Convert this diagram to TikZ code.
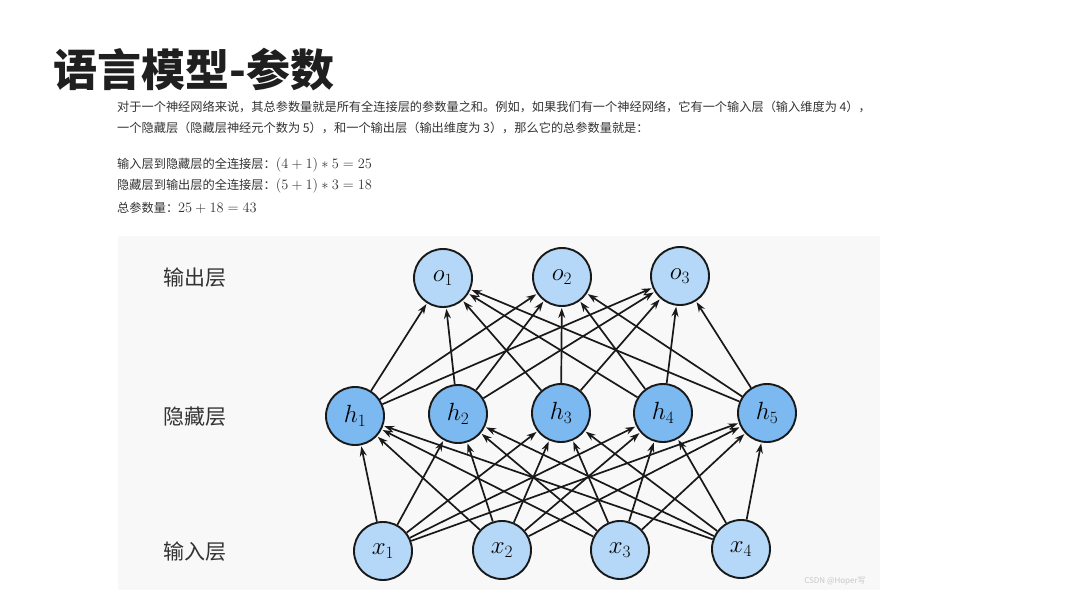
\documentclass[tikz,border=0pt]{standalone}
\usepackage{fontspec}
\setmainfont{Liberation Sans}
\newfontfamily\cjk{Noto Sans CJK SC}
\usetikzlibrary{arrows.meta}
\definecolor{lightnode}{HTML}{B5D8F8}
\definecolor{darknode}{HTML}{7CB9F1}
\definecolor{panelbg}{HTML}{F8F8F8}
\definecolor{txt}{HTML}{333333}
\definecolor{wm}{HTML}{C8C8C8}
\newcommand{\bigmath}[1]{{\fontsize{15}{16}\selectfont$#1$}}
\tikzset{
  neuronlight/.style={circle, draw=black!90, line width=1.9pt, fill=lightnode, minimum size=58pt, inner sep=0pt, font=\fontsize{23}{25}\selectfont},
  neurondark/.style={neuronlight, fill=darknode},
  edge/.style={-{Stealth[length=10pt,width=7pt]}, line width=1.7pt, black!90, shorten >=1pt},
  layerlabel/.style={anchor=west, inner sep=0pt, text=txt, font=\cjk\fontsize{21}{24}\selectfont},
  para/.style={anchor=west, inner sep=0pt, text=txt, font=\cjk\fontsize{12.2}{14}\selectfont}
}
\begin{document}
\begin{tikzpicture}[x=1pt,y=-1pt]
\useasboundingbox (0,0) rectangle (1080,608);
\fill[white] (0,0) rectangle (1080,608);
% title
\node[anchor=west, inner sep=0pt, text=black!88, font=\cjk\bfseries\fontsize{44}{48}\selectfont] (title) at (53,70) {语言模型-参数};
% paragraph
\node[para] (p1) at (117,107) {对于一个神经网络来说，其总参数量就是所有全连接层的参数量之和。例如，如果我们有一个神经网络，它有一个输入层（输入维度为 4），};
\node[para] (p2) at (117,128) {一个隐藏层（隐藏层神经元个数为 5），和一个输出层（输出维度为 3），那么它的总参数量就是：};
\node[para] (p3) at (117,165) {输入层到隐藏层的全连接层：\bigmath{(4+1)*5=25}};
\node[para] (p4) at (117,186) {隐藏层到输出层的全连接层：\bigmath{(5+1)*3=18}};
\node[para] (p5) at (117,208) {总参数量：\bigmath{25+18=43}};
% panel
\fill[panelbg] (118,236) rectangle (880,590);
% layer labels
\node[layerlabel] (lo) at (163,278) {输出层};
\node[layerlabel] (lh) at (163,417) {隐藏层};
\node[layerlabel] (li) at (163,552) {输入层};
% nodes
\node[neuronlight] (o1) at (443,278) {$o_1$};
\node[neuronlight] (o2) at (562,277) {$o_2$};
\node[neuronlight] (o3) at (680,276) {$o_3$};
\node[neurondark] (h1) at (355,416) {$h_1$};
\node[neurondark] (h2) at (458,414) {$h_2$};
\node[neurondark] (h3) at (561,413) {$h_3$};
\node[neurondark] (h4) at (663,413) {$h_4$};
\node[neurondark] (h5) at (767,413) {$h_5$};
\node[neuronlight] (x1) at (383,551) {$x_1$};
\node[neuronlight] (x2) at (502,550) {$x_2$};
\node[neuronlight] (x3) at (620,550) {$x_3$};
\node[neuronlight] (x4) at (741,549) {$x_4$};
% edges
\foreach \s in {h1,h2,h3,h4,h5}
  \foreach \t in {o1,o2,o3}
    \draw[edge] (\s) -- (\t);
\foreach \s in {x1,x2,x3,x4}
  \foreach \t in {h1,h2,h3,h4,h5}
    \draw[edge] (\s) -- (\t);
% watermark
\node[anchor=center, inner sep=0pt, text=wm, font=\cjk\fontsize{8}{9}\selectfont] (wmk) at (835,581) {CSDN @Hoper写};
\end{tikzpicture}
\end{document}
